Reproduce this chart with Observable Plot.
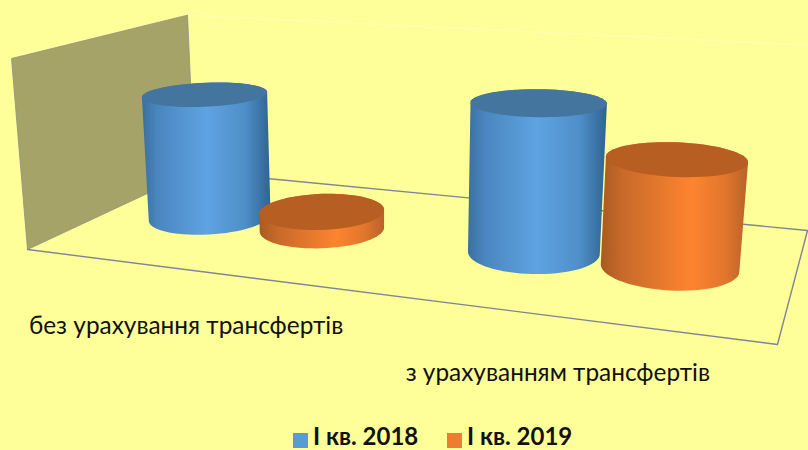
<!DOCTYPE html>
<html>
<head>
<meta charset="utf-8">
<script src="https://cdn.jsdelivr.net/npm/d3@7"></script>
<script src="https://cdn.jsdelivr.net/npm/@observablehq/plot@0.6"></script>
<style>
  html, body { margin: 0; padding: 0; background: #ffff99; width: 808px; height: 450px; overflow: hidden; }
  #legend { position: relative; height: 25px; font: bold 24px Lato, "Open Sans", sans-serif; color: #111; }
  #legend .sw { position: absolute; top: 8px; width: 15px; height: 15px; }
  #legend .tx { position: absolute; top: -2.5px; line-height: 25px; white-space: nowrap; }
</style>
</head>
<body>
<div id="chart"></div>
<div id="legend"></div>
<script>
// --- chart data ---
const categories = ["без урахування трансфертів", "з урахуванням трансфертів"];
const seriesNames = ["І кв. 2018", "І кв. 2019"];
const values2018 = [70, 78];
const values2019 = [10, 55];
const axisMax = 100;

// --- styles ---
const seriesColors = ["#5b9bd5", "#ed7d31"];
const topColors = ["#44759f", "#b75f22"];
const W = 808, H = 425;

// --- 3D projection of the (hidden) chart box: u along categories, v in depth, h up ---
const m = {a: 598.35, b: 212.21, c: 27, d: 27.86, e: -38.15, f: 249, g: -0.19518, i: 0.23304, p: -16.46, q: -193.43, r: -0.0419};
function project(u, v, h) {
  const w = m.g * u + m.i * v + 1 + m.r * h;
  return {x: (m.a * u + m.b * v + m.c + m.p * h) / w, y: (m.d * u + m.e * v + m.f + m.q * h) / w};
}
const catCenter = i => (i + 0.5) / categories.length;
const seriesOffset = 0.092, radU = 0.089, radV = 0.205, midV = 0.5;

function ring(u, h) {
  return d3.range(0, 73).map(k => {
    const t = (k / 72) * 2 * Math.PI;
    return project(u + radU * Math.cos(t), midV + radV * Math.sin(t), h);
  });
}
function body(u, h) {
  const pts = [...ring(u, 0), ...ring(u, h)].map(p => [p.x, p.y]);
  const hull = d3.polygonHull(pts);
  return [...hull, hull[0]].map(([x, y]) => ({x, y}));
}

const gradients = () => d3.create("svg:defs").html(`
  <linearGradient id="g0" x1="0" x2="1" y1="0" y2="0">
    <stop offset="0" stop-color="#3b6f9f"/><stop offset="0.12" stop-color="#4a86bf"/>
    <stop offset="0.5" stop-color="#5ea3e2"/><stop offset="0.8" stop-color="#4f8fc9"/>
    <stop offset="1" stop-color="#2f6391"/>
  </linearGradient>
  <linearGradient id="g1" x1="0" x2="1" y1="0" y2="0">
    <stop offset="0" stop-color="#a85a22"/><stop offset="0.15" stop-color="#c86a2a"/>
    <stop offset="0.62" stop-color="#fe8430"/><stop offset="0.85" stop-color="#e0752c"/>
    <stop offset="1" stop-color="#b8622a"/>
  </linearGradient>`).node();

// --- box ---
const wall = [project(0,0,0), project(0,1,0), project(0,1,1), project(0,0,1), project(0,0,0)];
const floor = [project(0,1,0), project(1,1,0), project(1,0,0), project(0,0,0)];
const ceiling = [project(0,1,1), project(1,1,1)];

const marks = [
  gradients,
  Plot.line(floor, {x: "x", y: "y", stroke: "#7f8498", strokeWidth: 1.4}),
  Plot.line(ceiling, {x: "x", y: "y", stroke: "#ffffff", strokeWidth: 1, strokeOpacity: 0.4, strokeDasharray: "3 2"}),
  Plot.line(wall, {x: "x", y: "y", fill: "#a5a367", stroke: "#8f9080", strokeWidth: 0.8})
];

categories.forEach((_, i) => {
  [values2018[i], values2019[i]].forEach((v, s) => {
    const u = catCenter(i) + (s === 0 ? -seriesOffset : seriesOffset);
    const h = v / axisMax;
    marks.push(
      Plot.line(body(u, h), {x: "x", y: "y", fill: `url(#g${s})`, stroke: "none"}),
      Plot.line(ring(u, h), {x: "x", y: "y", fill: topColors[s], stroke: "none"})
    );
  });
});

marks.push(Plot.text(categories, {
  x: (_, i) => project(catCenter(i), 0, 0).x,
  y: (_, i) => project(catCenter(i), 0, 0).y,
  text: d => d,
  dy: 57,
  fontSize: 24.4,
  fill: "#111"
}));

const chart = Plot.plot({
  width: W, height: H,
  marginTop: 0, marginRight: 0, marginBottom: 0, marginLeft: 0,
  x: {domain: [0, W], range: [0, W], axis: null},
  y: {domain: [0, H], range: [0, H], axis: null},
  style: {background: "transparent", fontFamily: "Lato, 'Open Sans', sans-serif", display: "block"},
  marks
});
document.getElementById("chart").appendChild(chart);

// --- legend below the SVG ---
const legend = d3.select("#legend");
[[293, 313], [447, 467]].forEach(([sx, tx], s) => {
  legend.append("div").attr("class", "sw").style("left", sx + "px").style("background", seriesColors[s]);
  legend.append("div").attr("class", "tx").style("left", tx + "px").text(seriesNames[s]);
});
</script>
</body>
</html>
